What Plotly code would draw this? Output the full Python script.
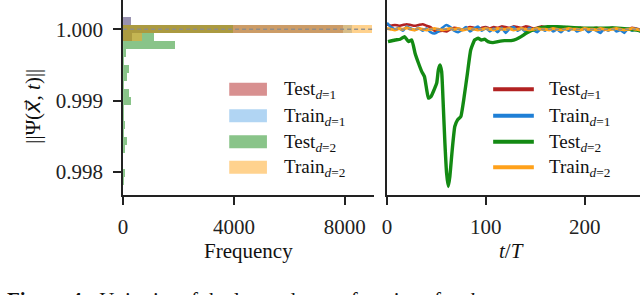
import plotly.graph_objects as go

# ---------------- data ----------------
# histogram (horizontal) bins of the norm
bin_centers = [1.0001204, 1.0000084, 0.9998964, 0.9997844, 0.9996724, 0.9995604,
               0.9994484, 0.9993364, 0.9992244, 0.9991124, 0.9990004, 0.9988884,
               0.9987764, 0.9986644, 0.9985524, 0.9984404, 0.9983284, 0.9982164,
               0.9981044, 0.9979924, 0.9978804, 0.9977684]
bin_width = 0.000112
counts_test_d1 = [300, 7950, 320, 0, 0, 0, 0, 0, 0, 0, 0, 0, 0, 0, 0, 0, 0, 0, 0, 0, 0, 0]
counts_train_d1 = [300, 8270, 320, 0, 0, 0, 0, 0, 0, 0, 0, 0, 0, 0, 0, 0, 0, 0, 0, 0, 0, 0]
counts_test_d2 = [0, 3975, 1110, 1890, 110, 40, 200, 155, 30, 215, 295, 20,
                  40, 70, 30, 155, 60, 0, 10, 60, 20, 10]
counts_train_d2 = [0, 8990, 680, 0, 0, 0, 0, 0, 0, 0, 0, 0, 0, 0, 0, 0, 0, 0, 0, 0, 0, 0]

# time series
t_lines = [0, 4, 8, 12, 16, 20, 24, 28, 32, 36, 40,
           44, 48, 52, 56, 60, 64, 68, 72, 76, 80, 84,
           88, 92, 96, 100, 104, 108, 112, 116, 120, 124, 128,
           132, 136, 140, 144, 148, 152, 156, 160, 164, 168, 172,
           176, 180, 184, 188, 192, 196, 200, 204, 208, 212, 216,
           220, 224, 228, 232, 236, 240, 244, 248, 252, 256, 260]
norm_test_d1 = [1.00007, 1.00005, 1.00006, 1.00005, 1.00006, 1.00007, 1.00006, 1.00005, 1.00006, 1.00007, 1.00005,
                1.00003, 0.99998, 0.99997, 0.99998, 0.99997, 1.00000, 1.00002, 1.00001, 0.99999, 1.00001, 1.00003,
                1.00002, 1.00000, 1.00002, 1.00003, 1.00001, 1.00003, 1.00002, 1.00004, 1.00003, 1.00002, 1.00004,
                1.00003, 1.00002, 1.00004, 1.00003, 1.00001, 1.00002, 1.00004, 1.00003, 1.00002, 1.00003, 1.00002,
                1.00001, 1.00003, 1.00002, 1.00001, 1.00000, 1.00002, 1.00001, 0.99999, 1.00001, 1.00002, 1.00000,
                0.99999, 1.00001, 1.00002, 1.00000, 1.00001, 0.99999, 1.00000, 1.00002, 1.00001, 1.00000, 1.00001]
norm_train_d1 = [1.00009, 1.00003, 1.00000, 1.00002, 0.99998, 1.00004, 1.00001, 0.99999, 1.00002, 0.99998, 1.00001,
                 0.99996, 0.99994, 0.99997, 1.00002, 1.00006, 1.00003, 0.99998, 0.99996, 0.99999, 1.00003, 0.99997,
                 1.00001, 1.00004, 0.99998, 1.00002, 0.99997, 1.00001, 0.99996, 1.00002, 0.99995, 1.00001, 1.00003,
                 0.99998, 1.00001, 0.99997, 1.00002, 0.99999, 0.99996, 1.00001, 0.99998, 1.00002, 0.99997, 1.00000,
                 0.99996, 1.00001, 0.99998, 1.00002, 0.99997, 0.99999, 1.00001, 0.99996, 1.00000, 0.99998, 0.99995,
                 1.00001, 0.99998, 1.00002, 0.99997, 0.99999, 0.99995, 1.00001, 0.99998, 1.00001, 0.99997, 0.99999]
norm_train_d2 = [1.00001, 1.00000, 0.99999, 1.00001, 1.00000, 1.00002, 1.00000, 0.99999, 1.00001, 1.00000, 0.99999,
                 1.00000, 1.00001, 1.00000, 0.99999, 1.00000, 1.00001, 1.00000, 1.00001, 0.99999, 1.00000, 1.00001,
                 1.00000, 0.99999, 1.00000, 1.00001, 1.00000, 0.99999, 1.00001, 1.00000, 1.00000, 1.00001, 0.99999,
                 1.00000, 1.00001, 1.00000, 0.99999, 1.00000, 1.00001, 1.00000, 1.00000, 0.99999, 1.00001, 1.00000,
                 0.99999, 1.00000, 1.00001, 1.00000, 1.00000, 0.99999, 1.00001, 1.00000, 1.00000, 0.99999, 1.00001,
                 1.00000, 0.99999, 1.00000, 1.00001, 1.00000, 0.99999, 1.00000, 1.00001, 1.00000, 0.99999, 1.00000]

t_test_d2 = [1.0, 8.3, 13.4, 17.8, 21.8, 25.1, 28.4, 31.9, 35.2, 37.9, 40.2, 41.9, 44.5,
             47.9, 50.3, 52.0, 53.6, 55.3, 57.0, 58.6, 60.3, 62.0, 63.6, 66.0, 68.6,
             71.4, 74.7, 78.1, 81.4, 84.7, 88.7, 92.2, 95.5, 98.8, 102.2, 107.2, 112.3,
             118.9, 125.6, 130.7, 135.7, 140.7, 145.7, 152.5, 162.5, 172.6, 182.6, 196.0,
             212.8, 229.4, 246.2, 256.3]
norm_test_d2 = [0.999827, 0.99985, 0.99986, 0.999897, 0.999827, 0.99985, 0.999664, 0.999524,
                0.999407, 0.999337, 0.999151, 0.999035, 0.999057, 0.999161, 0.999245, 0.999431,
                0.999501, 0.999407, 0.998917, 0.998406, 0.997986, 0.997799, 0.997938, 0.998312,
                0.998638, 0.998731, 0.998778, 0.999057, 0.999385, 0.99971, 0.99985, 0.999874,
                0.99985, 0.99986, 0.999827, 0.999813, 0.999827, 0.999841, 0.999841, 0.99986,
                0.999897, 0.999944, 0.99998, 1.000014, 1.000036, 1.000036, 1.000028, 1.000018,
                1.000014, 1.000018, 1.0, 0.99998]

x_ticks_hist = [0, 4000, 8000]
x_ticks_time = [0, 100, 200]
y_ticks = [0.998, 0.999, 1.000]
y_tick_text = ["0.998", "0.999", "1.000"]

labels = ["Test", "Train", "Test", "Train"]
dims = ["1", "1", "2", "2"]

# ---------------- style ----------------
W, H = 640, 295
FONT = "Liberation Serif"
line_colors = ["#b22222", "#1f7fd6", "#138a13", "#ffa11a"]
bar_colors = ["rgba(178,34,34,0.5)", "rgba(60,150,225,0.4)",
              "rgba(19,138,19,0.5)", "rgba(255,166,30,0.5)"]
AX = "#222222"


def px(x):
    return x / W


def py(y):
    return 1 - y / H


fig = go.Figure()
hist_counts = [counts_test_d1, counts_train_d1, counts_test_d2, counts_train_d2]
for c, col in zip(hist_counts, bar_colors):
    fig.add_trace(go.Bar(y=bin_centers, x=c, orientation="h", width=bin_width,
                         marker=dict(color=col, line=dict(width=0)),
                         xaxis="x", yaxis="y", showlegend=False))

series = [(t_lines, norm_test_d1, 2.6), (t_lines, norm_train_d1, 2.6),
          (t_test_d2, norm_test_d2, 3.4), (t_lines, norm_train_d2, 3.0)]
for (tt, vv, lw), col in zip(series, line_colors):
    fig.add_trace(go.Scatter(x=tt, y=vv, mode="lines",
                             line=dict(color=col, width=lw, shape="spline", smoothing=0.4),
                             xaxis="x2", yaxis="y2", showlegend=False))

y_range = [0.997679, 1.00041]
left_dom = [px(119), px(371.7)]
right_dom = [px(385), 1.0]
y_dom = [py(195), 1.0]

tickfont = dict(family=FONT, size=21, color="#222")
fig.update_layout(
    width=W, height=H, margin=dict(l=0, r=0, t=0, b=0),
    paper_bgcolor="white", plot_bgcolor="white",
    barmode="overlay", bargap=0,
    xaxis=dict(domain=left_dom, range=[0, 9050], tickvals=x_ticks_hist,
               ticks="outside", ticklen=8, tickwidth=1.5, tickcolor=AX,
               showline=True, linecolor=AX, linewidth=1.8, showgrid=False,
               zeroline=False, tickfont=tickfont, ticklabelstandoff=4),
    yaxis=dict(domain=y_dom, range=y_range, tickvals=y_ticks, ticktext=y_tick_text,
               ticks="outside", ticklen=8, tickwidth=1.5, tickcolor=AX,
               showline=True, linecolor=AX, linewidth=1.8, showgrid=False,
               zeroline=False, tickfont=tickfont, ticklabelstandoff=6),
    xaxis2=dict(domain=right_dom, range=[0, 256], tickvals=x_ticks_time, anchor="y2",
                ticks="outside", ticklen=8, tickwidth=1.5, tickcolor=AX,
                showline=True, linecolor=AX, linewidth=1.8, showgrid=False,
                zeroline=False, tickfont=tickfont, ticklabelstandoff=4),
    yaxis2=dict(domain=y_dom, range=y_range, anchor="x2", showticklabels=False,
                ticks="", showline=True, linecolor=AX, linewidth=1.8,
                showgrid=False, zeroline=False),
)

# dashed reference lines at norm = 1
for xr, yr in [("x domain", "y"), ("x2 domain", "y2")]:
    fig.add_shape(type="line", xref=xr, yref=yr, x0=0, x1=1, y0=1.0, y1=1.0,
                  line=dict(color="rgba(140,140,140,0.9)", width=1.4, dash="4px,3px"),
                  layer="above")

# custom legends
rows = [89.3, 115.7, 141.7, 167.3]
for i, yc in enumerate(rows):
    fig.add_shape(type="rect", xref="paper", yref="paper",
                  x0=px(226), x1=px(264), y0=py(yc + 6.5), y1=py(yc - 6.5),
                  fillcolor=bar_colors[i], line=dict(width=0))
    fig.add_shape(type="line", xref="paper", yref="paper",
                  x0=px(492), x1=px(533), y0=py(yc), y1=py(yc),
                  line=dict(color=line_colors[i], width=4))
    txt = f"{labels[i]}<sub><i>d</i>={dims[i]}</sub>"
    for xl in (279, 546):
        fig.add_annotation(text=txt, xref="paper", yref="paper", x=px(xl), y=py(yc + 1),
                           xanchor="left", yanchor="middle", showarrow=False,
                           font=dict(family=FONT, size=19, color="#111"))

# axis titles
fig.add_annotation(text="||Ψ(<span style='font-family:DejaVu Sans'><i>x\u20d7</i></span>, <i>t</i>)||",
                   xref="paper", yref="paper",
                   x=px(28), y=py(106), textangle=-90, showarrow=False,
                   xanchor="center", yanchor="middle",
                   font=dict(family=FONT, size=21, color="#111"))
fig.add_annotation(text="Frequency", xref="paper", yref="paper",
                   x=px(245), y=py(251), showarrow=False, xanchor="center", yanchor="middle",
                   font=dict(family=FONT, size=21, color="#111"))
fig.add_annotation(text="<i>t</i>/<i>T</i>", xref="paper", yref="paper",
                   x=px(510), y=py(251), showarrow=False, xanchor="center", yanchor="middle",
                   font=dict(family=FONT, size=21, color="#111"))
# caption (clipped at the bottom edge, as in the reference)
fig.add_annotation(text="<b>Figure 4:</b>  Unitarity of the learned wave functions for <i>d</i>",
                   xref="paper", yref="paper", x=0, y=py(286), showarrow=False,
                   xanchor="left", yanchor="top",
                   font=dict(family=FONT, size=21, color="#111"))

fig.write_html("out.html", post_script="document.body.style.margin='0px';",
               config={"displayModeBar": False})
